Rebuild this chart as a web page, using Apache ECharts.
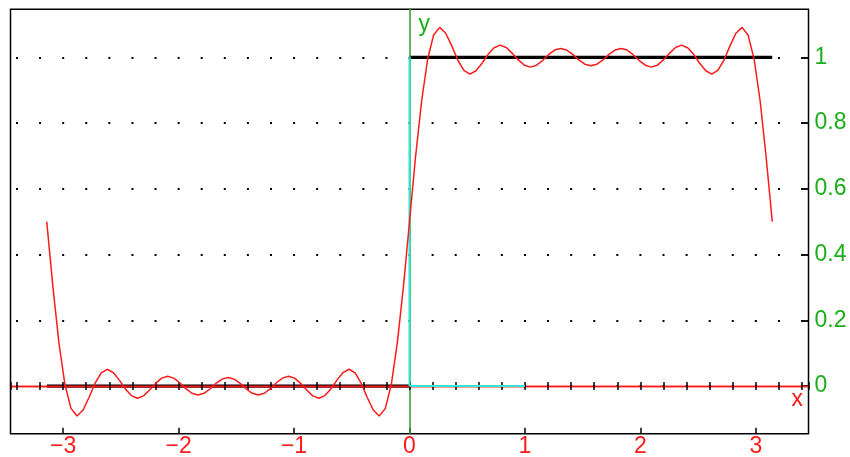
<!DOCTYPE html>
<html>
<head>
<meta charset="utf-8">
<script src="https://cdn.jsdelivr.net/npm/echarts@6/dist/echarts.min.js"></script>
<style>html,body{margin:0;padding:0;background:#fff}#c{width:850px;height:457px}</style>
</head>
<body>
<div id="c"></div>
<script>
const curveX = [
-3.142,-3.089,-3.037,-2.985,-2.932,-2.880,-2.827,-2.775,-2.723,-2.670,
-2.618,-2.566,-2.513,-2.461,-2.409,-2.356,-2.304,-2.251,-2.199,-2.147,
-2.094,-2.042,-1.990,-1.937,-1.885,-1.833,-1.780,-1.728,-1.676,-1.623,
-1.571,-1.518,-1.466,-1.414,-1.361,-1.309,-1.257,-1.204,-1.152,-1.100,
-1.047,-0.995,-0.942,-0.890,-0.838,-0.785,-0.733,-0.681,-0.628,-0.576,
-0.524,-0.471,-0.419,-0.367,-0.314,-0.262,-0.209,-0.157,-0.105,-0.052,
0.000,
0.052,0.105,0.157,0.209,0.262,0.314,0.367,0.419,0.471,0.524,
0.576,0.628,0.681,0.733,0.785,0.838,0.890,0.942,0.995,1.047,
1.100,1.152,1.204,1.257,1.309,1.361,1.414,1.466,1.518,1.571,
1.623,1.676,1.728,1.780,1.833,1.885,1.937,1.990,2.042,2.094,
2.147,2.199,2.251,2.304,2.356,2.409,2.461,2.513,2.566,2.618,
2.670,2.723,2.775,2.827,2.880,2.932,2.985,3.037,3.089,3.142
];
const curveY = [
0.500,0.304,0.133,0.006,-0.068,-0.091,-0.073,-0.034,0.009,0.040,
0.051,0.041,0.018,-0.009,-0.029,-0.037,-0.030,-0.012,0.008,0.024,
0.030,0.024,0.010,-0.008,-0.022,-0.027,-0.022,-0.009,0.008,0.021,
0.026,0.021,0.008,-0.009,-0.022,-0.027,-0.022,-0.008,0.010,0.024,
0.030,0.024,0.008,-0.012,-0.030,-0.037,-0.029,-0.009,0.018,0.041,
0.051,0.040,0.009,-0.034,-0.073,-0.091,-0.068,0.006,0.133,0.304,
0.500,
0.696,0.867,0.994,1.068,1.091,1.073,1.034,0.991,0.960,0.949,
0.959,0.982,1.009,1.029,1.037,1.030,1.012,0.992,0.976,0.970,
0.976,0.990,1.008,1.022,1.027,1.022,1.009,0.992,0.979,0.974,
0.979,0.992,1.009,1.022,1.027,1.022,1.008,0.990,0.976,0.970,
0.976,0.992,1.012,1.030,1.037,1.029,1.009,0.982,0.959,0.949,
0.960,0.991,1.034,1.073,1.091,1.068,0.994,0.867,0.696,0.500
];
// Target step function
const stepLowX = [-3.1416, 0];
const stepLowY = [0, 0];
const stepHighX = [0, 3.1416];
const stepHighY = [1, 1];
// Unit segments on axes
const unitXSegX = [0, 1];
const unitXSegY = [0, 0];
const unitYSegX = [0, 0];
const unitYSegY = [0, 1];
// Axis ranges
const xRange = [-3.4558, 3.4558];
const yRange = [-0.145, 1.146];

const zip = (a, b) => a.map((v, i) => [v, b[i]]);
const FONT = 'Liberation Sans, Arial, sans-serif';
const RED = '#ff1a1a';
const GREEN = '#1aae1a';
const CYAN = '#33e3d3';
const minus = v => (v < 0 ? '\u2212' : '') + Math.abs(+v.toFixed(4));

const chart = echarts.init(document.getElementById('c'), null, {renderer: 'canvas'});
chart.setOption({
  animation: false,
  backgroundColor: '#fff',
  grid: {left: 10.5, right: 41.5, top: 9.3, bottom: 23.3, show: true,
         borderColor: '#000', borderWidth: 1.5, containLabel: false, outerBoundsMode: 'none'},
  xAxis: [
    { type: 'value', position: 'bottom', min: xRange[0], max: xRange[1],
      minInterval: 1, maxInterval: 1,
      axisLine: {show: false, onZero: false},
      axisTick: {show: true, inside: true, length: 6, lineStyle: {color: '#000', width: 1.5}},
      axisLabel: {color: RED, fontSize: 23, fontFamily: FONT, margin: 1,
                  showMinLabel: false, showMaxLabel: false, formatter: minus},
      splitLine: {show: false}, z: 1 },
    { type: 'value', position: 'bottom', min: xRange[0], max: xRange[1],
      minInterval: 0.2, maxInterval: 0.2,
      axisLine: {show: true, onZero: true, onZeroAxisIndex: 0, lineStyle: {color: RED, width: 1.3}},
      axisTick: {show: true, inside: true, length: 4, lineStyle: {color: '#000', width: 1.5}},
      axisLabel: {show: false}, splitLine: {show: false},
      name: 'x', nameLocation: 'end', nameGap: -17, nameMoveOverlap: false,
      nameTextStyle: {color: RED, fontSize: 23, fontFamily: FONT, align: 'left', verticalAlign: 'top', padding: [2, 0, 0, 0]},
      z: 3 },
    { type: 'value', position: 'bottom', min: xRange[0], max: xRange[1],
      minInterval: 0.2, maxInterval: 0.2,
      axisLine: {show: true, onZero: true, onZeroAxisIndex: 0, lineStyle: {color: RED, width: 1.3}},
      axisTick: {show: true, inside: false, length: 4, lineStyle: {color: '#000', width: 1.5}},
      axisLabel: {show: false}, splitLine: {show: false}, z: 3 }
  ],
  yAxis: [
    { type: 'value', position: 'right', min: yRange[0], max: yRange[1],
      minInterval: 0.2, maxInterval: 0.2,
      axisLine: {show: false, onZero: false},
      axisTick: {show: true, inside: true, length: 6, lineStyle: {color: '#111', width: 2}},
      axisLabel: {color: GREEN, fontSize: 23, fontFamily: FONT, margin: 6,
                  showMinLabel: false, showMaxLabel: false, formatter: minus},
      splitLine: {show: true, showMinLine: false, showMaxLine: false,
                  lineStyle: {color: '#000', width: 2, type: [2, 21.09], dashOffset: 17.6}},
      z: 1 },
    { type: 'value', position: 'left', min: yRange[0], max: yRange[1],
      minInterval: 0.2, maxInterval: 0.2,
      axisLine: {show: true, onZero: true, onZeroAxisIndex: 0, lineStyle: {color: '#2a9e2a', width: 1.5}},
      axisTick: {show: false}, axisLabel: {show: false}, splitLine: {show: false},
      name: 'y', nameLocation: 'end', nameGap: -4, nameMoveOverlap: false,
      nameTextStyle: {color: GREEN, fontSize: 23, fontFamily: FONT, align: 'left', verticalAlign: 'top', padding: [0, 0, 0, 9]},
      z: 3 }
  ],
  series: [
    { type: 'line', xAxisIndex: 0, yAxisIndex: 0, data: zip(stepLowX, stepLowY), showSymbol: false, symbol: 'none',
      lineStyle: {color: '#000', width: 3.2}, z: 1, silent: true },
    { type: 'line', xAxisIndex: 0, yAxisIndex: 0, data: zip(stepHighX, stepHighY), showSymbol: false, symbol: 'none',
      lineStyle: {color: '#000', width: 3.2}, z: 1, silent: true },
    { type: 'line', xAxisIndex: 0, yAxisIndex: 0, data: zip(unitXSegX, unitXSegY), showSymbol: false, symbol: 'none',
      lineStyle: {color: CYAN, width: 2}, z: 4, silent: true },
    { type: 'line', xAxisIndex: 0, yAxisIndex: 0, data: zip(unitYSegX, unitYSegY), showSymbol: false, symbol: 'none',
      lineStyle: {color: CYAN, width: 2}, z: 4, silent: true },
    { type: 'line', xAxisIndex: 0, yAxisIndex: 0, data: zip(curveX, curveY), showSymbol: false, symbol: 'none',
      lineStyle: {color: RED, width: 1.5}, z: 5, silent: true }
  ]
});
</script>
</body>
</html>
